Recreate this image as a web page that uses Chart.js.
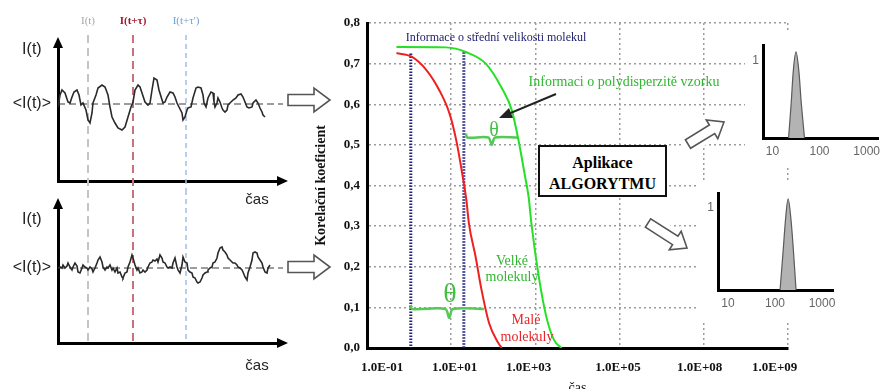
<!DOCTYPE html>
<html>
<head>
<meta charset="utf-8">
<script src="https://cdn.jsdelivr.net/npm/chart.js@4.4.1/dist/chart.umd.min.js"></script>
<style>
html, body { margin:0; padding:0; background:#fff; }
body { width:886px; height:389px; overflow:hidden; position:relative; }
canvas, .t, .box, svg { position:absolute; }
.t { white-space:nowrap; transform:translate(-50%,-50%); font-family:"Liberation Serif", serif; line-height:1; }
.box { left:538px; top:145px; width:125px; border:2.5px solid #111; background:#fff;
       font:bold 16px "Liberation Serif", serif; text-align:center; line-height:21px; padding-top:5px; box-sizing:content-box; height:43px; }
</style>
</head>
<body>
<canvas id="tl" width="290" height="210" style="left:0;top:0"></canvas>
<canvas id="bl" width="290" height="199" style="left:0;top:190px"></canvas>
<canvas id="corr" width="510" height="400" style="left:300px;top:0"></canvas>
<canvas id="distTop" width="141" height="135" style="left:745px;top:30px;background:#fff"></canvas>
<canvas id="distBot" width="145" height="140" style="left:698px;top:180px;background:#fff"></canvas>
<div class="box">Aplikace<br>ALGORYTMU</div>
<svg id="arrows" width="886" height="389" style="left:0;top:0"></svg>
<script>
// intensity traces (time in arbitrary units, intensity in arbitrary units)
const topTime = [
  0.0,0.2,0.4,0.7,1.0,1.2,1.4,1.6,1.9,2.1,
  2.3,2.5,2.8,3.0,3.2,3.4,3.5,3.8,4.0,4.4,
  4.7,5.0,5.2,5.4,5.7,6.0,6.4,6.7,7.0,7.3,
  7.5,7.7,8.0,8.2,8.4,8.7,9.0,9.2,9.4,9.6,
  9.9,10.1,10.5,10.7,10.9,11.2,11.5,11.7,11.9,12.1,
  12.4,12.5,12.7,12.9,13.0,13.3,13.5,13.8,14.0,14.3,
  14.5,14.6,14.8,15.0,15.3,15.5,15.6,15.7,15.9,16.0,
  16.2,16.4,16.5,16.7,16.9,17.0,17.3,17.5,17.8,18.0,
  18.3,18.5,18.7,18.9,19.1,19.4,19.5,19.8,20.0,20.2,
  20.4,20.5,20.7];
const topIntensity = [
  7.4,8.6,9.1,8.8,7.9,7.8,8.4,8.9,9.1,8.6,
  7.6,7.8,7.1,6.1,5.8,6.8,7.8,8.6,9.3,9.6,
  9.4,8.6,7.4,6.4,5.8,5.3,5.1,5.4,6.4,7.4,
  7.9,9.1,9.6,9.4,8.8,7.9,7.6,7.8,9.1,10.3,
  10.1,9.1,7.8,7.9,8.4,8.9,8.8,8.4,7.8,7.4,
  6.8,6.1,6.4,7.1,7.3,7.4,8.3,9.3,9.4,9.3,
  8.6,7.8,7.4,8.3,8.9,8.8,7.9,7.4,7.8,8.3,
  7.9,7.3,7.1,6.9,7.1,7.6,7.9,8.1,8.3,8.6,
  8.7,8.4,7.9,7.4,7.3,7.4,7.8,8.1,7.8,7.3,
  6.9,6.6,6.4];
const topMean = 7.7;

const bottomTime = [
  0.0,0.2,0.4,0.5,0.7,0.9,1.0,1.2,1.4,1.5,
  1.7,1.9,2.0,2.2,2.4,2.5,2.7,2.9,3.0,3.2,
  3.4,3.5,3.7,3.9,4.0,4.2,4.4,4.5,4.7,4.9,
  5.0,5.2,5.4,5.5,5.7,5.9,6.0,6.2,6.4,6.5,
  6.7,6.9,7.0,7.2,7.4,7.5,7.7,7.9,8.0,8.2,
  8.4,8.5,8.7,8.9,9.0,9.2,9.4,9.5,9.7,9.9,
  10.0,10.2,10.4,10.5,10.7,10.9,11.0,11.2,11.4,11.5,
  11.7,11.9,12.0,12.2,12.4,12.5,12.7,12.9,13.0,13.2,
  13.4,13.5,13.7,13.9,14.0,14.2,14.4,14.5,14.7,14.9,
  15.0,15.2,15.4,15.5,15.7,15.9,16.0,16.2,16.4,16.5,
  16.7,16.9,17.0,17.2,17.4,17.5,17.7,17.9,18.0,18.2,
  18.4,18.5,18.7,18.9,19.0,19.2,19.4,19.5,19.7,19.9,
  20.0,20.2,20.4,20.5,20.7,20.9,21.0,21.2];
const bottomIntensity = [
  7.5,7.6,7.5,7.8,7.5,7.7,8.0,7.6,7.3,7.6,
  8.0,7.7,7.1,7.0,7.5,7.8,7.6,7.5,7.3,7.6,
  7.4,7.1,7.5,8.0,8.3,8.6,8.1,7.6,7.3,7.6,
  7.5,7.8,7.3,7.5,7.1,7.5,7.0,7.1,6.6,6.5,
  7.0,7.1,7.6,8.1,8.8,8.5,7.8,7.3,7.5,7.0,
  7.1,7.3,7.1,7.3,7.6,8.0,8.1,8.3,8.2,8.4,
  8.1,8.8,8.5,8.1,8.0,7.6,7.5,7.6,7.5,8.0,
  8.5,7.6,7.3,7.0,7.8,8.6,8.1,8.0,7.3,7.1,
  7.0,6.6,6.5,6.1,6.0,6.1,6.5,6.8,7.0,7.1,
  7.3,7.5,7.6,8.0,8.1,8.5,9.0,9.5,9.6,9.3,
  9.1,8.8,8.5,8.3,8.1,8.0,8.0,7.8,7.6,7.5,
  7.3,7.1,6.6,6.3,7.0,7.6,8.3,9.0,9.1,9.0,
  8.6,8.3,8.0,7.6,7.1,7.0,7.5,7.8];
const bottomMean = 7.5;

const markerTimes = [3.0, 7.5, 12.8];
const markerLabels = ['I(t)', 'I(t+τ)', "I(t+τ')"];
const markerColors = ['#a8a8a8', '#a3182e', '#6f9fd6'];
const markerLineColors = ['#c4c4c4', '#c9707e', '#a0bfe6'];
const levelLabels = ['<I(t)>', 'I(t)'];

// correlation function, x in decade slots of the time axis
const timeTickPos = [0.18, 1.04, 1.92, 2.98, 3.95, 4.84];
const timeTickLabels = ['1.0E-01', '1.0E+01', '1.0E+03', '1.0E+05', '1.0E+08', '1.0E+09'];
const bigX = [0.35, 0.94, 1.18, 1.41, 1.60, 1.72, 1.80, 1.87, 1.92, 1.95, 2.04, 2.13, 2.22, 2.31];
const bigY = [0.741, 0.740, 0.728, 0.700, 0.640, 0.585, 0.510, 0.430, 0.370, 0.310, 0.175, 0.076, 0.020, 0.0];
const smallX = [0.35, 0.53, 0.71, 0.86, 0.98, 1.06, 1.13, 1.18, 1.21, 1.29, 1.36, 1.45, 1.56, 1.60];
const smallY = [0.726, 0.717, 0.683, 0.634, 0.577, 0.511, 0.430, 0.364, 0.307, 0.224, 0.143, 0.061, 0.012, 0.0];
const decayMarks = [0.52, 1.15];
const decayMarkTop = [0.725, 0.728];
const braceUpX = [1.176, 1.19, 1.44, 1.482, 1.52, 1.788];
const braceUpY = [0.528, 0.518, 0.518, 0.500, 0.518, 0.518];
const braceLowX = [0.518, 0.535, 0.93, 0.976, 1.02, 1.388];
const braceLowY = [0.106, 0.096, 0.096, 0.074, 0.096, 0.096];

// size distributions
const sizeTicks = [10, 100, 1000];
const distTopX = [22, 25, 28, 31.6, 36, 41, 48];
const distTopY = [0, 0.45, 0.9, 1.12, 0.9, 0.45, 0];
const distBotX = [128, 150, 170, 190, 215, 245, 280];
const distBotY = [0, 0.5, 0.9, 1.11, 0.9, 0.5, 0];

Chart.defaults.font.family = '"Liberation Serif", serif';
Chart.defaults.animation = false;

const pts = (xs, ys) => xs.map((x, i) => ({x: x, y: ys[i]}));
const flat = {pointRadius: 0, pointHoverRadius: 0, fill: false};
const gridGray = '#9c9c9c';

const axisArrows = {
  id: 'axisArrows',
  afterDraw(chart) {
    const a = chart.chartArea, c = chart.ctx;
    c.save();
    c.fillStyle = '#000';
    c.beginPath(); c.moveTo(a.left - 5, a.top + 2); c.lineTo(a.left + 5, a.top + 2); c.lineTo(a.left, a.top - 9); c.fill();
    c.beginPath(); c.moveTo(a.right - 2, a.bottom - 5); c.lineTo(a.right - 2, a.bottom + 5); c.lineTo(a.right + 9, a.bottom); c.fill();
    c.restore();
  }
};

function timeChart(id, times, values, mean, o) {
  const ds = [
    Object.assign({data: pts(times, values), borderColor: '#2a2a2a', borderWidth: 1.6, tension: 0}, flat),
    Object.assign({data: [{x: 0, y: mean}, {x: 22.9, y: mean}], borderColor: '#3a3a3a', borderWidth: 1, borderDash: [7, 4], clip: false}, flat)
  ];
  markerTimes.forEach((t, i) => {
    ds.push(Object.assign({data: [{x: t, y: o.lineTop}, {x: t, y: o.lineBottom}],
      borderColor: markerLineColors[i], borderWidth: i == 2 ? 1.5 : 2, borderDash: i == 2 ? [5, 4] : [8, 5], clip: false}, flat));
  });
  const scales = {
    x: {type: 'linear', min: 0, max: 22.1, weight: 0,
      afterFit: s => { s.height = o.bottomH; },
      afterBuildTicks: s => { s.ticks = [{value: 19.9}]; },
      ticks: {callback: () => 'čas', padding: o.casPad, autoSkip: false, maxRotation: 0, color: '#222',
        font: {size: 15, family: '"Liberation Sans", sans-serif'}},
      grid: {display: false, drawTicks: false}, border: {color: '#000', width: 3}},
    y: {type: 'linear', min: 0, max: o.yMax,
      afterFit: s => { s.width = 58; },
      afterBuildTicks: s => { s.ticks = [{value: mean}, {value: o.itPos}]; },
      ticks: {callback: (v, i) => levelLabels[i], crossAlign: 'center', padding: 7, color: '#222',
        font: {size: 16, family: '"Liberation Sans", sans-serif'}},
      grid: {display: false, drawTicks: false}, border: {color: '#000', width: 3}}
  };
  if (o.topLabels) {
    scales.xt = {type: 'linear', axis: 'x', position: 'top', min: 0, max: 22.1,
      afterFit: s => { s.height = 46; },
      afterBuildTicks: s => { s.ticks = markerTimes.map(v => ({value: v})); },
      ticks: {callback: (v, i) => markerLabels[i], padding: 18, autoSkip: false, maxRotation: 0,
        color: c => markerColors[c.index],
        font: c => ({size: 11, weight: c.index == 1 ? 'bold' : 'normal'})},
      grid: {display: false, drawTicks: false}, border: {display: false}};
  }
  ds.forEach(d => { d.xAxisID = 'x'; d.yAxisID = 'y'; });
  return new Chart(document.getElementById(id), {
    type: 'line',
    data: {datasets: ds},
    options: {responsive: false, maintainAspectRatio: false,
      layout: {padding: {left: 0, right: 11, top: o.padTop, bottom: 0}},
      plugins: {legend: {display: false}, tooltip: {enabled: false}},
      scales: scales},
    plugins: [axisArrows]
  });
}

timeChart('tl', topTime, topIntensity, topMean,
  {yMax: 13.5, itPos: 13.1, lineTop: 14.6, lineBottom: -0.9, bottomH: 29, casPad: 10, padTop: 0, topLabels: true});
timeChart('bl', bottomTime, bottomIntensity, bottomMean,
  {yMax: 13.6, itPos: 12.3, lineTop: 15.3, lineBottom: 0, bottomH: 46, casPad: 14, padTop: 17, topLabels: false});

// correlation chart
const corrSets = [
  Object.assign({data: pts(bigX, bigY), borderColor: '#25e025', borderWidth: 2, cubicInterpolationMode: 'monotone'}, flat),
  Object.assign({data: pts(smallX, smallY), borderColor: '#f02020', borderWidth: 2, cubicInterpolationMode: 'monotone'}, flat),
  Object.assign({data: pts(braceUpX, braceUpY), borderColor: '#55c855', borderWidth: 2.5, tension: 0.3}, flat),
  Object.assign({data: pts(braceLowX, braceLowY), borderColor: '#55c855', borderWidth: 2.5, tension: 0.3}, flat)
];
decayMarks.forEach((x, i) => {
  corrSets.push(Object.assign({data: [{x: x, y: decayMarkTop[i]}, {x: x, y: 0}],
    borderColor: '#23237e', borderWidth: 3, borderDash: [1.5, 1.5]}, flat));
});

new Chart(document.getElementById('corr'), {
  type: 'line',
  data: {datasets: corrSets},
  options: {responsive: false, maintainAspectRatio: false,
    layout: {padding: {left: 0, right: 18, top: 23, bottom: 0}},
    plugins: {legend: {display: false}, tooltip: {enabled: false}},
    scales: {
      xg: {type: 'linear', axis: 'x', position: 'bottom', weight: 0, min: 0, max: 5,
        afterFit: s => { s.height = 0; },
        ticks: {display: false, stepSize: 1},
        grid: {color: gridGray, lineWidth: 1.5, drawTicks: false},
        border: {color: '#000', width: 3, dash: [2, 3]}},
      x: {type: 'linear', position: 'bottom', weight: 1, min: 0, max: 5,
        afterFit: s => { s.height = 52; },
        afterBuildTicks: s => { s.ticks = timeTickPos.map(v => ({value: v})); },
        ticks: {callback: (v, i) => timeTickLabels[i], padding: 12, autoSkip: false, maxRotation: 0, color: '#111',
          font: {size: 13, weight: 'bold'}},
        grid: {display: false, drawTicks: false}, border: {display: false},
        title: {display: true, text: 'čas', color: '#111', font: {size: 14}, padding: {top: 0, bottom: 3}}},
      y: {type: 'linear', min: 0, max: 0.8,
        afterFit: s => { s.width = 67; },
        ticks: {stepSize: 0.1, callback: v => v.toFixed(1).replace('.', ','), padding: 7, color: '#111',
          font: {size: 13, weight: 'bold'}},
        grid: {color: c => (c.tick && c.tick.value === 0) ? 'rgba(0,0,0,0)' : gridGray, lineWidth: 1.5, drawTicks: false},
        border: {color: '#000', width: 3, dash: [2, 3]},
        title: {display: true, text: 'Korelační koeficient', color: '#111', font: {size: 14, weight: 'bold'}, padding: {top: 13, bottom: 0}}}
    }}
});

function distChart(id, xs, ys, o) {
  return new Chart(document.getElementById(id), {
    type: 'line',
    data: {datasets: [Object.assign({data: pts(xs, ys), borderColor: '#5a5a5a', borderWidth: 1.2,
      backgroundColor: '#b3b3b3', tension: 0.35}, flat, {fill: 'origin'})]},
    options: {responsive: false, maintainAspectRatio: false,
      layout: {padding: {left: 0, right: o.padRight, top: o.padTop, bottom: 0}},
      plugins: {legend: {display: false}, tooltip: {enabled: false}},
      scales: {
        x: {type: 'logarithmic', min: o.xMin, max: o.xMax,
          afterFit: s => { s.height = o.bottomH; },
          afterBuildTicks: s => { s.ticks = sizeTicks.map(v => ({value: v})); },
          ticks: {callback: (v, i) => String(sizeTicks[i]), padding: 6, autoSkip: false, maxRotation: 0, color: '#666',
            font: {size: 12, family: '"Liberation Sans", sans-serif'}},
          grid: {display: false, drawTicks: false}, border: {color: '#000', width: 3}},
        y: {type: 'linear', min: 0, max: o.yMax,
          afterFit: s => { s.width = o.leftW; },
          afterBuildTicks: s => { s.ticks = [{value: 1}]; },
          ticks: {callback: () => '1', padding: 4, color: '#666',
            font: {size: 12, family: '"Liberation Sans", sans-serif'}},
          grid: {display: false, drawTicks: false}, border: {color: '#000', width: 3}}
      }}
  });
}
distChart('distTop', distTopX, distTopY, {xMin: 6.31, xMax: 1820, yMax: 1.21, padTop: 15, padRight: 0, bottomH: 27, leftW: 18});
distChart('distBot', distBotX, distBotY, {xMin: 6.12, xMax: 1714, yMax: 1.18, padTop: 13, padRight: 10, bottomH: 30, leftW: 20});

// annotations
const notes = [
  ['Informace o střední velikosti molekul', 496, 37, 12, '#1b1b6b'],
  ['Informaci o polydisperzitě vzorku', 624, 82, 14, '#30b530'],
  ['θ', 494, 129, 20, '#44c044'],
  ['θ', 450, 293, 28, '#44c044'],
  ['Velké', 512, 261, 14, '#30b530'],
  ['molekuly', 512, 277, 14, '#30b530'],
  ['Malé', 526, 320, 14, '#e8262a'],
  ['molekuly', 527, 337, 14, '#e8262a']
];
notes.forEach(n => {
  const d = document.createElement('div');
  d.className = 't';
  d.textContent = n[0];
  d.style.left = n[1] + 'px';
  d.style.top = n[2] + 'px';
  d.style.fontSize = n[3] + 'px';
  d.style.color = n[4];
  document.body.insertBefore(d, document.getElementById('arrows'));
});

function blockArrow(x1, y1, x2, y2, sw, hw, hl) {
  const len = Math.hypot(x2 - x1, y2 - y1), ux = (x2 - x1) / len, uy = (y2 - y1) / len;
  const nx = -uy, ny = ux, bx = x2 - ux * hl, by = y2 - uy * hl;
  const p = [[x1 + nx * sw, y1 + ny * sw], [bx + nx * sw, by + ny * sw], [bx + nx * hw, by + ny * hw], [x2, y2],
    [bx - nx * hw, by - ny * hw], [bx - nx * sw, by - ny * sw], [x1 - nx * sw, y1 - ny * sw]];
  const s = p.map(q => q[0].toFixed(1) + ',' + q[1].toFixed(1)).join(' ');
  return '<polygon points="' + s + '" fill="#fff" stroke="#fff" stroke-width="10" stroke-linejoin="round"/>' +
    '<polygon points="' + s + '" fill="#fff" stroke="#555" stroke-width="1.6" stroke-linejoin="miter"/>';
}
let svg = '';
svg += blockArrow(288, 100, 330, 100, 5.5, 12, 16);
svg += blockArrow(288, 267, 330, 267, 5.5, 12, 16);
svg += blockArrow(688, 144, 724, 122, 5, 11, 14);
svg += blockArrow(648, 223, 687, 248, 5, 11, 14);
svg += '<line x1="556" y1="94" x2="508" y2="114" stroke="#222" stroke-width="2"/>';
svg += '<polygon points="499,118 509,108 513,118" fill="#222"/>';
document.getElementById('arrows').innerHTML = svg;
</script>
</body>
</html>
